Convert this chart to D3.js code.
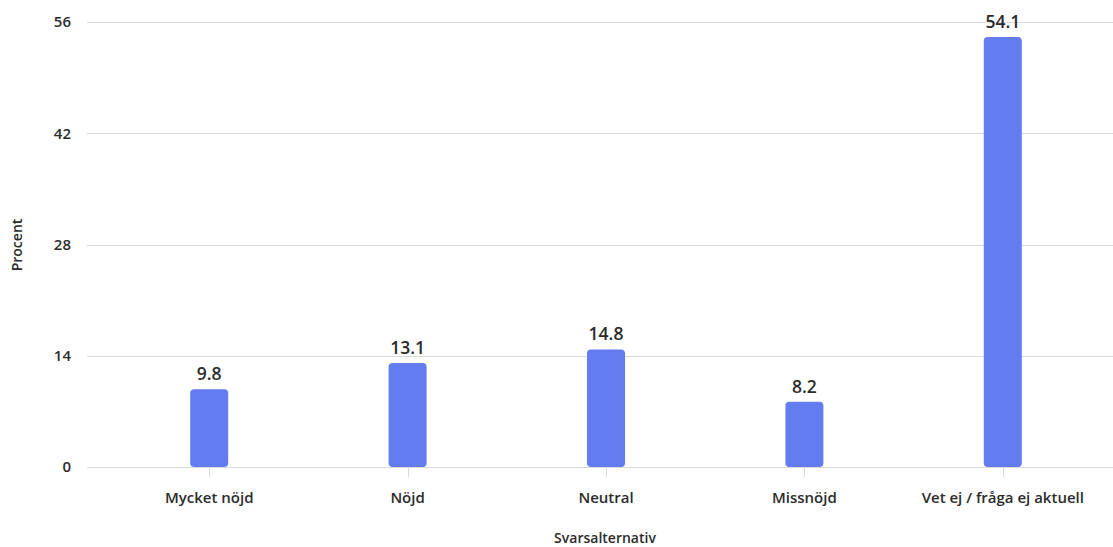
<!DOCTYPE html>
<html>
<head>
<meta charset="utf-8">
<script src="https://cdn.jsdelivr.net/npm/d3@7"></script>
<style>
  html, body { margin: 0; padding: 0; background: #fff; }
  svg { display: block; font-family: "Open Sans", "Noto Sans", sans-serif; }
</style>
</head>
<body>
<svg id="chart" width="1113" height="547"></svg>
<script>
const categories = ["Mycket nöjd", "Nöjd", "Neutral", "Missnöjd", "Vet ej / fråga ej aktuell"];
const values = [9.8, 13.1, 14.8, 8.2, 54.1];
const yTicks = [0, 14, 28, 42, 56];
const xTitle = "Svarsalternativ";
const yTitle = "Procent";

const svg = d3.select("#chart");
const gridLeft = 87, gridRight = 1113;
const x = d3.scaleBand().domain(categories).range([110, 1102]).padding(0);
const y = d3.scaleLinear().domain([0, 56]).range([467, 22]);
const barW = 38;

// gridlines
svg.append("g").selectAll("line").data(yTicks).join("line")
  .attr("x1", gridLeft).attr("x2", gridRight)
  .attr("y1", d => Math.round(y(d)) + 0.5).attr("y2", d => Math.round(y(d)) + 0.5)
  .attr("stroke", "#d9d9d9").attr("stroke-width", 1);

// y tick labels
svg.append("g").selectAll("text").data(yTicks).join("text")
  .attr("x", 71).attr("y", d => y(d)).attr("dy", "0.35em")
  .attr("text-anchor", "end")
  .attr("font-size", 15).attr("font-weight", 600).attr("fill", "#2b2b2b")
  .text(d => d);

// x tick marks
svg.append("g").selectAll("line").data(categories).join("line")
  .attr("x1", d => Math.round(x(d) + x.bandwidth() / 2) + 0.5)
  .attr("x2", d => Math.round(x(d) + x.bandwidth() / 2) + 0.5)
  .attr("y1", y(0)).attr("y2", y(0) + 10)
  .attr("stroke", "#d9d9d9").attr("stroke-width", 1);

// bars
svg.append("g").selectAll("rect").data(values).join("rect")
  .attr("x", (d, i) => x(categories[i]) + x.bandwidth() / 2 - barW / 2)
  .attr("width", barW)
  .attr("y", d => y(d))
  .attr("height", d => y(0) - y(d))
  .attr("rx", 4).attr("ry", 4)
  .attr("fill", "#637cf0");

// value labels
svg.append("g").selectAll("text").data(values).join("text")
  .attr("x", (d, i) => x(categories[i]) + x.bandwidth() / 2)
  .attr("y", d => y(d) - 9)
  .attr("text-anchor", "middle")
  .attr("font-size", 17.5).attr("font-weight", 600).attr("fill", "#2b2b2b")
  .text(d => d.toFixed(1));

// x labels
svg.append("g").selectAll("text").data(categories).join("text")
  .attr("x", d => x(d) + x.bandwidth() / 2)
  .attr("y", 503)
  .attr("text-anchor", "middle")
  .attr("font-size", 15).attr("font-weight", 600).attr("fill", "#2b2b2b")
  .text(d => d);

// axis titles
svg.append("text")
  .attr("x", 605).attr("y", 543)
  .attr("text-anchor", "middle")
  .attr("font-size", 14).attr("font-weight", 600).attr("fill", "#2b2b2b")
  .text(xTitle);

svg.append("text")
  .attr("transform", "translate(22,245) rotate(-90)")
  .attr("text-anchor", "middle")
  .attr("font-size", 14).attr("font-weight", 600).attr("fill", "#2b2b2b")
  .text(yTitle);
</script>
</body>
</html>
